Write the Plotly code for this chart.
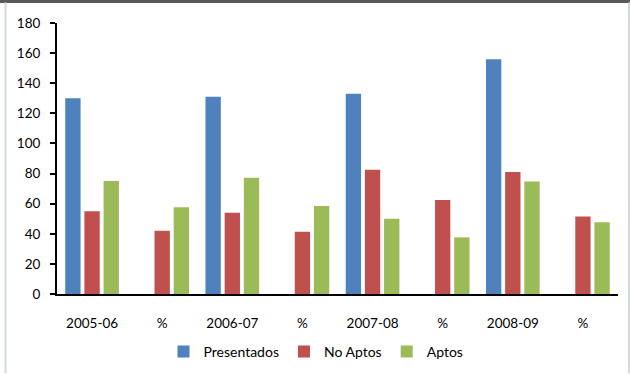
import plotly.graph_objects as go

tick_labels = ["2005-06", "%", "2006-07", "%", "2007-08", "%", "2008-09", "%"]
presentados = [130, None, 131, None, 133, None, 156, None]
no_aptos = [55, 42, 54, 41.3, 82.5, 62.5, 81, 51.5]
aptos = [75, 57.7, 77.2, 58.5, 50, 37.6, 74.8, 47.6]

positions = list(range(len(tick_labels)))

series = [
    ("Presentados", presentados, "#4F81BD"),
    ("No Aptos", no_aptos, "#C0504D"),
    ("Aptos", aptos, "#9BBB59"),
]

fig = go.Figure()
for name, vals, color in series:
    fig.add_trace(go.Bar(
        name=name, x=positions, y=vals,
        marker=dict(color=color, line=dict(width=0)),
    ))

FONT = "Lato, Calibri, sans-serif"

L, R, T, B = 57, 12, 22.5, 79.5
W, H = 630, 374
pw, ph = W - L - R, H - T - B

def px_x(x):
    return (x - L) / pw

def px_y(y):
    return (H - B - y) / ph

shapes = [
    dict(type="line", xref="paper", yref="paper", x0=px_x(0), x1=px_x(W), y0=px_y(1), y1=px_y(1),
         line=dict(color="#5a5a5a", width=3)),
    dict(type="line", xref="paper", yref="paper", x0=px_x(5.5), x1=px_x(5.5), y0=px_y(2), y1=px_y(H),
         line=dict(color="#D3D9E2", width=2)),
    dict(type="line", xref="paper", yref="paper", x0=px_x(629), x1=px_x(629), y0=px_y(2), y1=px_y(H),
         line=dict(color="#D3D9E2", width=2)),
]

fig.update_layout(
    width=W, height=H,
    margin=dict(l=L, r=R, t=T, b=B, autoexpand=False),
    paper_bgcolor="white", plot_bgcolor="white",
    barmode="group", bargap=0.18, bargroupgap=0.2,
    font=dict(family=FONT, size=13, color="#000000"),
    showlegend=True,
    legend=dict(orientation="h", xref="container", x=316 / W, xanchor="center",
                yref="container", y=1 - 352 / H, yanchor="middle",
                font=dict(family=FONT, size=14), itemwidth=30, tracegroupgap=0),
    shapes=shapes,
    xaxis=dict(
        range=[-0.5, len(tick_labels) - 0.5], automargin=False,
        tickmode="array", tickvals=positions, ticktext=tick_labels,
        showline=True, linecolor="#000000", linewidth=2, ticks="",
        showgrid=False, zeroline=False, ticklabelstandoff=16,
        tickfont=dict(family=FONT, size=13.5),
    ),
    yaxis=dict(
        range=[0, 180], dtick=20, tick0=0, automargin=False,
        showline=True, linecolor="#000000", linewidth=2,
        ticks="outside", ticklen=5, tickcolor="#000000", tickwidth=2,
        showgrid=False, zeroline=False, ticklabelstandoff=7,
        tickfont=dict(family=FONT, size=13.5),
    ),
)

fig.write_html("out.html")
